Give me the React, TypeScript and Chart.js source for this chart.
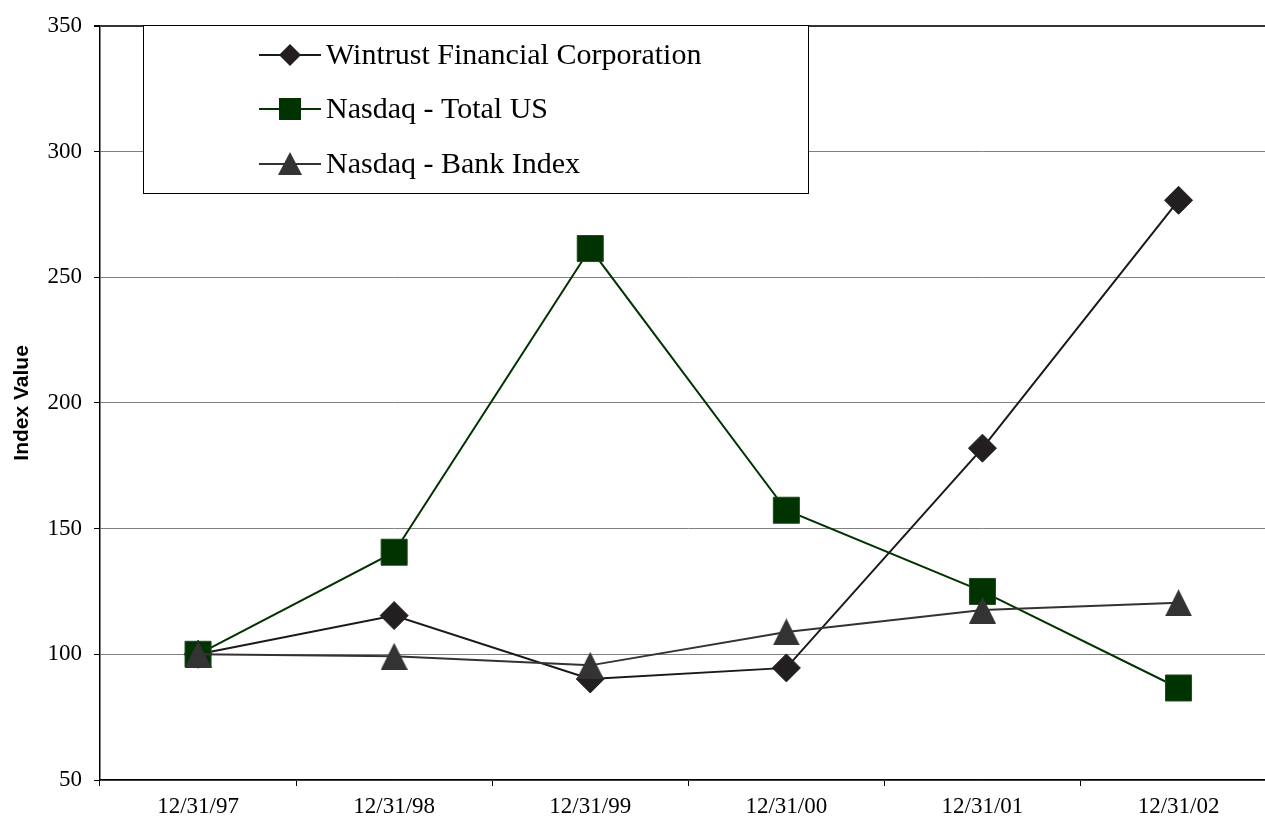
import React, { useEffect, useRef } from "react";
import { Chart, registerables } from "chart.js";

Chart.register(...registerables);

const categories = ["12/31/97", "12/31/98", "12/31/99", "12/31/00", "12/31/01", "12/31/02"];
const wintrust = [100, 115.4, 90.2, 94.6, 182.0, 280.6];
const nasdaqTotal = [100, 140.6, 261.4, 157.3, 125.0, 86.6];
const nasdaqBank = [100, 99.2, 95.6, 108.9, 117.6, 120.5];
const yTicks = [50, 100, 150, 200, 250, 300, 350];

function makeTriangle(size: number, color: string) {
  const c = document.createElement("canvas");
  c.width = size;
  c.height = size;
  const g = c.getContext("2d")!;
  g.fillStyle = color;
  g.beginPath();
  g.moveTo(size / 2, 0);
  g.lineTo(size, size);
  g.lineTo(0, size);
  g.closePath();
  g.fill();
  return c;
}

const legendPlugin = {
  id: "boxLegend",
  afterDatasetsDraw(chart: any) {
    const ctx = chart.ctx;
    const left = 143.5, top = 25.5, right = 808.5, bottom = 193.5;
    ctx.save();
    ctx.fillStyle = "#ffffff";
    ctx.fillRect(left, top, right - left, bottom - top);
    ctx.strokeStyle = "#000000";
    ctx.lineWidth = 1;
    ctx.strokeRect(left, top, right - left, bottom - top);
    const rows = [55, 109, 164];
    chart.data.datasets.forEach((ds: any, i: number) => {
      const y = rows[i];
      ctx.strokeStyle = ds.borderColor;
      ctx.lineWidth = 2;
      ctx.beginPath();
      ctx.moveTo(259, y);
      ctx.lineTo(321, y);
      ctx.stroke();
      ctx.fillStyle = ds.pointBackgroundColor;
      const cx = 290;
      ctx.beginPath();
      if (ds.markerKind === "diamond") {
        const r = 11;
        ctx.moveTo(cx, y - r);
        ctx.lineTo(cx + r, y);
        ctx.lineTo(cx, y + r);
        ctx.lineTo(cx - r, y);
      } else if (ds.markerKind === "square") {
        ctx.rect(cx - 11, y - 11, 22, 22);
      } else {
        ctx.moveTo(cx, y - 12);
        ctx.lineTo(cx + 12, y + 11);
        ctx.lineTo(cx - 12, y + 11);
      }
      ctx.closePath();
      ctx.fill();
      ctx.fillStyle = "#000000";
      ctx.font = "30px 'Liberation Serif'";
      ctx.textBaseline = "middle";
      ctx.textAlign = "left";
      ctx.fillText(ds.label, 326, y + 1);
    });
    ctx.restore();
  },
};

export default function App() {
  const ref = useRef<HTMLCanvasElement | null>(null);
  useEffect(() => {
    if (!ref.current) return;
    const tri = makeTriangle(27, "#333333");
    const chart = new Chart(ref.current, {
      type: "line",
      data: {
        labels: categories,
        datasets: [
          {
            label: "Wintrust Financial Corporation",
            markerKind: "diamond",
            data: wintrust,
            borderColor: "#1a1a1a",
            borderWidth: 2,
            pointStyle: "rectRot",
            pointRadius: 14,
            pointBackgroundColor: "#231f20",
            pointBorderColor: "#231f20",
            pointBorderWidth: 1,
            tension: 0,
            order: 2,
          },
          {
            label: "Nasdaq - Total US",
            markerKind: "square",
            data: nasdaqTotal,
            borderColor: "#003300",
            borderWidth: 2,
            pointStyle: "rect",
            pointRadius: 18.4,
            pointBackgroundColor: "#003300",
            pointBorderColor: "#1f4a1f",
            pointBorderWidth: 1,
            tension: 0,
            order: 1,
          },
          {
            label: "Nasdaq - Bank Index",
            markerKind: "triangle",
            data: nasdaqBank,
            borderColor: "#333333",
            borderWidth: 2,
            pointStyle: tri,
            pointRadius: 14,
            pointBackgroundColor: "#333333",
            pointBorderColor: "#333333",
            pointBorderWidth: 1,
            tension: 0,
            order: 0,
          },
        ],
      },
      options: {
        animation: false,
        responsive: false,
        layout: { padding: { left: 0, right: 8, top: 25, bottom: 0 } },
        plugins: {
          legend: { display: false },
          tooltip: { enabled: false },
        },
        scales: {
          x: {
            type: "category",
            offset: true,
            grid: { offset: true, drawOnChartArea: false, tickLength: 6, color: "#000000" },
            border: { color: "#000000", width: 1.5 },
            ticks: {
              font: { family: "'Liberation Serif'", size: 23 },
              color: "#000000",
              padding: 7,
              maxRotation: 0,
              autoSkip: false,
            },
            afterFit: (s: any) => {
              s.height = 41;
            },
          },
          y: {
            min: 50,
            max: 350,
            afterBuildTicks: (s: any) => {
              s.ticks = yTicks.map((v) => ({ value: v }));
            },
            ticks: {
              font: { family: "'Liberation Serif'", size: 23 },
              color: "#000000",
              padding: 12,
            },
            grid: {
              color: (c: any) => (c.tick && c.tick.value === 350 ? "#333333" : "#808080"),
              lineWidth: (c: any) => (c.tick && c.tick.value === 350 ? 2 : 1),
              tickColor: "#000000",
              tickLength: 6,
            },
            border: { color: "#000000", width: 1.5 },
            title: {
              display: true,
              text: "Index Value",
              font: { family: "'Liberation Sans'", size: 21, weight: "bold" },
              color: "#000000",
              padding: { top: 10, bottom: 0 },
            },
            afterFit: (s: any) => {
              s.width = 100;
            },
          },
        },
      },
      plugins: [legendPlugin],
    } as any);
    return () => chart.destroy();
  }, []);
  return (
    <div style={{ position: "fixed", left: 0, top: 0, width: 1265, height: 821, overflow: "hidden", background: "#fff" }}>
      <canvas ref={ref} width={1296} height={821} style={{ display: "block" }} />
    </div>
  );
}
